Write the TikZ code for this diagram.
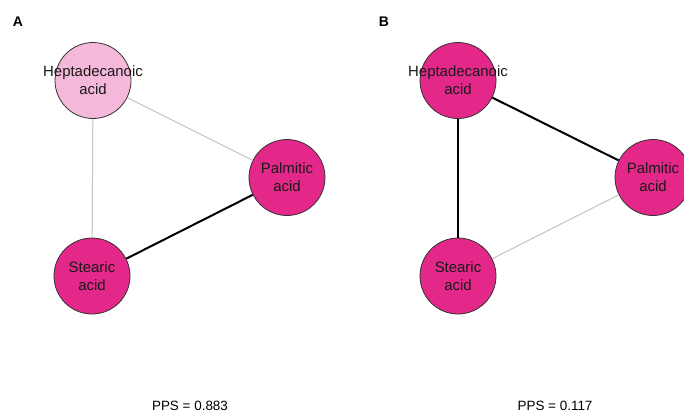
\documentclass[tikz,border=0pt]{standalone}
\usepackage{fontspec}
\setmainfont{Liberation Sans}
\definecolor{darkpink}{HTML}{E3288A}
\definecolor{lightpink}{HTML}{F5B8DA}
\definecolor{edgegray}{HTML}{C4C4C4}
\begin{document}
\begin{tikzpicture}[x=1bp,y=-1bp,
  acidnode/.style={circle,draw=black!80,line width=0.8bp,minimum size=76bp,inner sep=0pt,
    label={[font=\fontsize{15}{18}\selectfont,align=center,text=black!90]center:#1}},
  strong/.style={black,line width=2bp},
  weak/.style={edgegray,line width=1bp},
  panel/.style={font=\fontsize{14}{16}\selectfont\bfseries},
  pps/.style={font=\fontsize{13.5}{15}\selectfont}]
\clip (0,0) rectangle (684,415);
\fill[white] (0,0) rectangle (684,415);
% Panel A
\node[panel] (labA) at (18,22) {A};
\node[acidnode={Heptadecanoic\\acid},fill=lightpink] (hA) at (93,80.5) {};
\node[acidnode={Palmitic\\acid},fill=darkpink] (pA) at (287,177.5) {};
\node[acidnode={Stearic\\acid},fill=darkpink] (sA) at (92,276) {};
\draw[weak] (hA) -- (pA);
\draw[weak] (hA) -- (sA);
\draw[strong] (sA) -- (pA);
\node[pps] (ppsA) at (190,406) {PPS = 0.883};
% Panel B
\node[panel] (labB) at (384,22) {B};
\node[acidnode={Heptadecanoic\\acid},fill=darkpink] (hB) at (458,80.5) {};
\node[acidnode={Palmitic\\acid},fill=darkpink] (pB) at (653,177.5) {};
\node[acidnode={Stearic\\acid},fill=darkpink] (sB) at (458,276) {};
\draw[strong] (hB) -- (pB);
\draw[strong] (hB) -- (sB);
\draw[weak] (sB) -- (pB);
\node[pps] (ppsB) at (555,406) {PPS = 0.117};
\end{tikzpicture}
\end{document}
